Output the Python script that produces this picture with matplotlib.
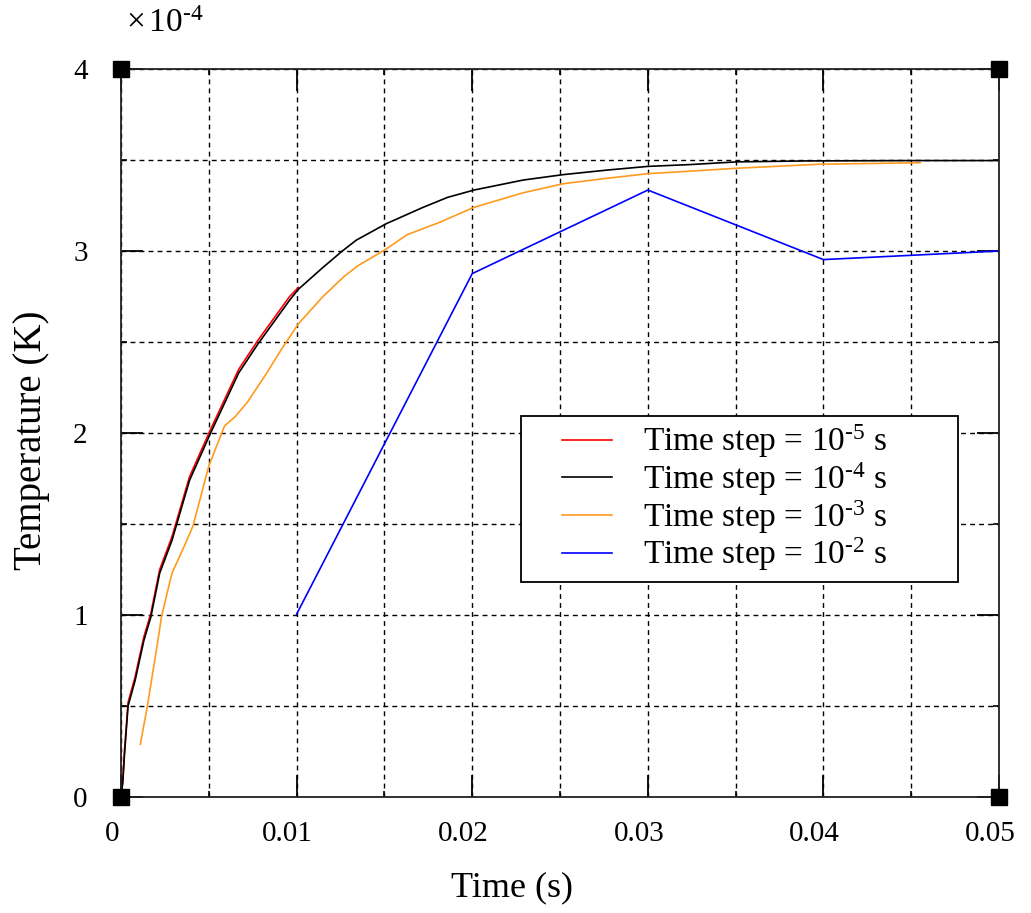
import matplotlib
matplotlib.use("Agg")
import matplotlib.pyplot as plt
import matplotlib.transforms as mtransforms
from matplotlib.patches import Rectangle

plt.rcParams["font.family"] = ["Liberation Serif", "DejaVu Serif"]
plt.rcParams["mathtext.fontset"] = "custom"
plt.rcParams["mathtext.rm"] = "Liberation Serif"
plt.rcParams["mathtext.it"] = "Liberation Serif:italic"

# Temperature in units of 1e-4 K against time (s) for each time step
t_1e5 = [0, 0.0001, 0.0002, 0.0004, 0.0008, 0.0013, 0.0017, 0.0022, 0.0029,
         0.0039, 0.0051, 0.0067, 0.0078, 0.0096, 0.0101]
T_1e5 = [0, 0.10, 0.26, 0.52, 0.66, 0.88, 1.01, 1.25, 1.43,
         1.76, 2.02, 2.35, 2.51, 2.75, 2.80]

t_1e4 = [0, 0.0001, 0.0002, 0.0004, 0.0008, 0.0013, 0.0017, 0.0022, 0.0029,
         0.0039, 0.0051, 0.0067, 0.0078, 0.0096, 0.0101, 0.0115, 0.0126,
         0.0134, 0.0151, 0.0172, 0.0186, 0.0201, 0.0229, 0.0252, 0.0277,
         0.0300, 0.0324, 0.0351, 0.0390, 0.0450, 0.0500]
T_1e4 = [0, 0.08, 0.24, 0.50, 0.64, 0.86, 0.99, 1.23, 1.41,
         1.74, 2.00, 2.33, 2.49, 2.73, 2.79, 2.91, 3.00,
         3.06, 3.15, 3.24, 3.295, 3.335, 3.39, 3.42, 3.445,
         3.465, 3.475, 3.49, 3.495, 3.497, 3.497]

t_1e3 = [0.0011, 0.0015, 0.0018, 0.0021, 0.0023, 0.0029, 0.0037, 0.0041,
         0.0050, 0.0059, 0.0065, 0.0072, 0.0083, 0.0092, 0.0101, 0.0115,
         0.0127, 0.0135, 0.0150, 0.0163, 0.0182, 0.0201, 0.0229, 0.0252,
         0.0277, 0.0300, 0.0326, 0.0351, 0.0398, 0.0455]
T_1e3 = [0.29, 0.50, 0.68, 0.86, 0.99, 1.23, 1.40, 1.49,
         1.82, 2.04, 2.09, 2.17, 2.33, 2.47, 2.60, 2.75,
         2.86, 2.92, 3.005, 3.09, 3.16, 3.24, 3.32, 3.37,
         3.40, 3.425, 3.44, 3.455, 3.477, 3.485]

t_1e2 = [0.01, 0.02, 0.03, 0.04, 0.05]
T_1e2 = [1.005, 2.876, 3.335, 2.953, 3.0]

labels = [r"Time step = 10$^{\text{-5}}$ s", r"Time step = 10$^{\text{-4}}$ s",
          r"Time step = 10$^{\text{-3}}$ s", r"Time step = 10$^{\text{-2}}$ s"]
colors = ["#ff0000", "#000000", "#ff9a1e", "#0000ff"]

xticks = [0, 0.01, 0.02, 0.03, 0.04, 0.05]
xticklabels = ["0", "0.01", "0.02", "0.03", "0.04", "0.05"]
yticks = [0, 1, 2, 3, 4]

fig = plt.figure(figsize=(10.31, 9.13), dpi=100)
ax = fig.add_axes([0.1174, 0.127, 0.8516, 0.7974])

series = [(t_1e5, T_1e5), (t_1e4, T_1e4), (t_1e3, T_1e3), (t_1e2, T_1e2)]
for (t, T), c, lab in zip(series, colors, labels):
    ax.plot(t, T, color=c, lw=1.2, label=lab)

ax.set_xlim(0, 0.05)
ax.set_ylim(0, 4)
ax.set_xticks(xticks)
ax.set_xticklabels(xticklabels)
ax.set_yticks(yticks)
ax.set_yticklabels([str(v) for v in yticks])
ax.set_xticks([0.005, 0.015, 0.025, 0.035, 0.045], minor=True)
ax.set_yticks([0.5, 1.5, 2.5, 3.5], minor=True)

ax.tick_params(which="major", direction="in", length=16, width=1.3,
               top=True, right=True, labelsize=21, pad=17)
ax.tick_params(which="minor", direction="in", length=4, width=1.2,
               top=True, right=True)
ax.tick_params(axis="y", which="major", pad=24)
ax.grid(which="both", color="black", linestyle=(0, (3.5, 3)), lw=1.0)
ax.set_axisbelow(True)
for s in ax.spines.values():
    s.set_linewidth(1.3)
    s.set_color("#222222")

# shift the x tick labels a little to the left
shift = mtransforms.ScaledTranslation(-9 / 100, 0, fig.dpi_scale_trans)
for lbl in ax.get_xticklabels():
    lbl.set_transform(lbl.get_transform() + shift)

# black corner squares
ax.plot([0, 0.05, 0, 0.05], [0, 0, 4, 4], "s", color="black", ms=12,
        clip_on=False, zorder=5)

fig.text(512 / 1031, 1 - 888 / 913, "Time (s)", fontsize=26,
         ha="center", va="center")
fig.text(32 / 1031, 1 - 440 / 913, "Temperature (K)", fontsize=28,
         rotation=90, ha="center", va="center")
fig.text(165 / 1031, 1 - 24 / 913, r"$\times\,$10$^{\text{-4}}$", fontsize=24,
         ha="center", va="center")

# legend box drawn separately so the entries can sit where wanted
ax.add_patch(Rectangle((0.4556, 0.2953), 0.4977, 0.228, transform=ax.transAxes,
                       facecolor="white", edgecolor="black", lw=1.3, zorder=4))
leg = ax.legend(loc="center left", bbox_to_anchor=(0.5023, 0.4107),
                fontsize=24, frameon=False, borderpad=0,
                labelspacing=0, handlelength=1.5, handletextpad=0.93,
                borderaxespad=0)
leg.set_zorder(6)

fig.savefig("out.png", dpi=100)
